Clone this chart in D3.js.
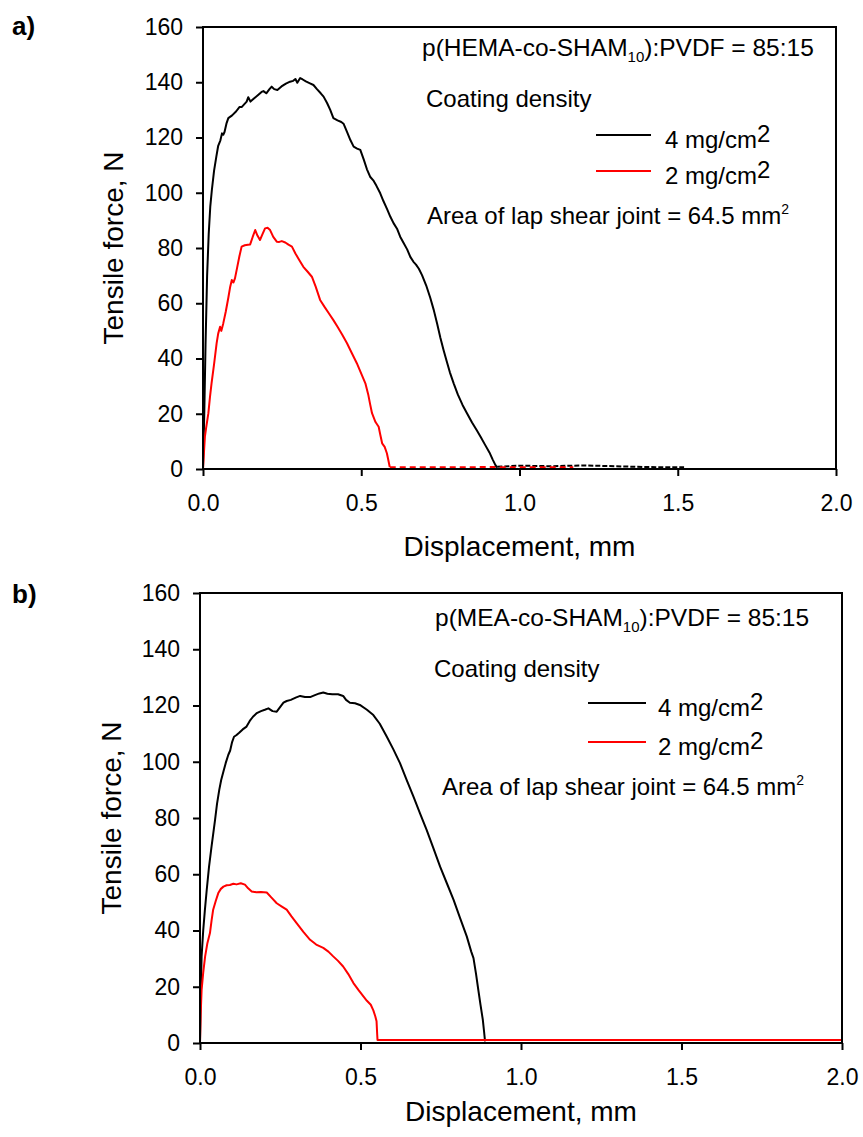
<!DOCTYPE html>
<html>
<head>
<meta charset="utf-8">
<script src="https://cdn.jsdelivr.net/npm/d3@7"></script>
<style>
  body { margin: 0; background: #fff; }
  svg text { font-family: "Liberation Sans", Arial, sans-serif; fill: #000; }
</style>
</head>
<body>
<div id="chart"></div>
<script>
/* DATA */
const xTicks = [0, 0.5, 1.0, 1.5, 2.0];
const yTicks = [0, 20, 40, 60, 80, 100, 120, 140, 160];
const seriesNames = ["4 mg/cm", "2 mg/cm"];
const seriesColors = ["#000000", "#ff0000"];

// panel a: p(HEMA-co-SHAM10):PVDF, [displacement mm, force N]
const a4mg = [[0,0],[0.004,20],[0.008,45],[0.013,70],[0.018,85],[0.023,95],[0.028,101],[0.035,108],[0.042,113],[0.048,117],
  [0.055,119],[0.060,121.5],[0.064,121],[0.068,122],[0.074,125],[0.080,127],[0.092,128],[0.105,129.5],[0.115,131],[0.122,131],
  [0.130,132],[0.138,133],[0.143,134.6],[0.150,133],[0.160,134],[0.175,135.5],[0.185,136.5],[0.191,136.8],[0.200,136],[0.210,137.5],
  [0.217,138.4],[0.225,137.5],[0.235,137.2],[0.248,138.5],[0.262,139.5],[0.275,140.2],[0.285,140.5],[0.292,141.2],[0.298,139.8],[0.307,141.5],
  [0.315,141],[0.325,140.3],[0.338,139.6],[0.349,139],[0.360,137.5],[0.372,136],[0.381,134.8],[0.392,132.5],[0.402,130],[0.412,127],
  [0.425,126.2],[0.437,125.6],[0.444,125],[0.455,122],[0.466,119],[0.476,116.7],[0.487,116],[0.497,115.5],[0.508,112],[0.518,108.5],
  [0.528,105.8],[0.538,104.5],[0.548,102.5],[0.560,99.8],[0.570,97],[0.582,94],[0.592,91.3],[0.602,89],[0.613,87],[0.623,84.1],
  [0.633,82],[0.645,79.5],[0.655,76.8],[0.665,75],[0.673,74],[0.682,72.5],[0.692,70.2],[0.705,66.5],[0.718,62],[0.729,57.6],
  [0.740,52.5],[0.750,47.5],[0.760,43.1],[0.770,39],[0.780,35],[0.792,31],[0.805,27],[0.820,23.2],[0.834,20.2],[0.850,16.8],
  [0.865,14],[0.877,11.7],[0.890,9],[0.905,6],[0.915,3.5],[0.924,1.4],[0.930,0.5]];
const a4mgTail = [[0.930,0.8],[1.0,1.2],[1.1,1.0],[1.2,1.3],[1.3,1.0],[1.4,0.7],[1.52,0.6]];
const a2mg = [[0,0],[0.003,6],[0.006,11.7],[0.010,15],[0.017,20.2],[0.022,26],[0.027,31],[0.035,38],[0.043,45.5],[0.048,49],
  [0.054,51.5],[0.058,50],[0.064,52.7],[0.072,57],[0.080,62],[0.086,66],[0.091,68.4],[0.096,67.5],[0.101,69],[0.108,73],
  [0.115,77],[0.122,80.5],[0.132,81],[0.142,81.2],[0.149,81.3],[0.157,84],[0.165,86.5],[0.172,84.5],[0.180,82.9],[0.188,85],
  [0.196,87.1],[0.204,87.3],[0.212,86.5],[0.222,84],[0.233,82.3],[0.241,82.2],[0.249,82.5],[0.260,82],[0.270,81.2],[0.281,80.5],
  [0.292,78],[0.305,75.5],[0.317,73.2],[0.330,71.5],[0.344,69.6],[0.356,66],[0.370,61.2],[0.385,58.5],[0.398,56.3],[0.412,53.9],
  [0.425,51.5],[0.440,48.6],[0.455,45.5],[0.470,42],[0.486,38.3],[0.500,34.5],[0.513,31],[0.522,27],[0.528,23.5],[0.534,20.2],
  [0.545,17],[0.555,15.3],[0.560,12.5],[0.566,9.3],[0.574,8],[0.581,5.7],[0.586,3],[0.590,0.7]];
const a2mgTail = [[0.590,0.6],[0.75,0.6],[0.9,0.7],[1.05,0.6],[1.17,0.6]];

// panel b: p(MEA-co-SHAM10):PVDF
const b4mg = [[0,0],[0.002,15],[0.005,30.8],[0.010,40],[0.015,47],[0.021,54.5],[0.028,62.5],[0.036,69.9],[0.047,79.4],[0.053,85],
  [0.060,90],[0.066,93.5],[0.073,96.5],[0.080,99.5],[0.088,102.4],[0.094,104],[0.100,107],[0.106,108.9],[0.114,109.5],[0.122,110.3],
  [0.133,111.5],[0.145,112.5],[0.155,114.5],[0.165,116],[0.177,117.3],[0.190,118],[0.202,118.5],[0.213,119],[0.226,118],[0.239,117.8],
  [0.250,119.5],[0.260,121],[0.270,121.6],[0.283,122],[0.298,122.8],[0.312,123.4],[0.327,123],[0.343,123],[0.358,123.7],[0.372,124.3],
  [0.384,124.6],[0.397,124.2],[0.412,124],[0.430,124],[0.446,123.4],[0.455,122],[0.467,121],[0.483,120.8],[0.498,120.2],[0.520,118.5],
  [0.540,116.6],[0.560,113.5],[0.582,108.9],[0.602,104.5],[0.623,99.5],[0.644,93.5],[0.665,87.6],[0.686,81.5],[0.706,75.8],[0.727,69.3],
  [0.748,62.7],[0.769,56.8],[0.790,50.9],[0.810,44.5],[0.831,37.9],[0.845,32.5],[0.852,30.2],[0.860,24.5],[0.867,18.9],[0.874,13.5],
  [0.881,8.3],[0.885,4],[0.888,0.6]];
const b2mg = [[0,0],[0.002,10],[0.005,18.9],[0.010,25],[0.016,30.8],[0.023,35.5],[0.031,39.1],[0.036,43.5],[0.041,47.4],[0.049,50.5],
  [0.057,53.3],[0.065,54.8],[0.073,55.6],[0.083,56.1],[0.093,56.2],[0.104,56.6],[0.114,56.4],[0.127,56.8],[0.140,56.3],[0.150,55],
  [0.161,53.9],[0.175,53.6],[0.190,53.7],[0.208,53.5],[0.222,51.8],[0.239,49.7],[0.255,48.5],[0.270,47.4],[0.285,45],[0.301,42.6],
  [0.322,39.5],[0.343,36.7],[0.362,35],[0.384,33.8],[0.400,32.5],[0.415,30.8],[0.430,29.2],[0.446,27.2],[0.462,24.5],[0.478,21.3],
  [0.494,18.8],[0.509,16.6],[0.520,15],[0.532,13.6],[0.540,11.6],[0.546,9.5],[0.550,7.7],[0.552,3],[0.553,1.1],[2.0,1.1]];

/* LAYOUT */
const width = 863, height = 1137;
const svg = d3.select("#chart").append("svg")
  .attr("width", width).attr("height", height);

const panels = [
  { label: "a)", labelY: 35, left: 203, right: 836, top: 27, bottom: 469,
    polymer: "p(HEMA-co-SHAM", polyX: 422, polyY: 56,
    densX: 426, densY: 107, keyX1: 596, keyX2: 651, keyTextX: 665, keyY: [135, 171],
    areaX: 427, areaY: 224, xTitleY: 556, yTitleX: 123,
    series: [a4mg, a2mg], tails: [a4mgTail, a2mgTail] },
  { label: "b)", labelY: 603, left: 200, right: 842, top: 593, bottom: 1043,
    polymer: "p(MEA-co-SHAM", polyX: 435, polyY: 626,
    densX: 434, densY: 677, keyX1: 588, keyX2: 646, keyTextX: 658, keyY: [703, 742],
    areaX: 442, areaY: 795, xTitleY: 1121, yTitleX: 121,
    series: [b4mg, b2mg], tails: [] }
];

panels.forEach(drawPanel);

function drawPanel(p) {
  const x = d3.scaleLinear().domain([0, 2]).range([p.left, p.right]);
  const y = d3.scaleLinear().domain([0, 160]).range([p.bottom, p.top]);
  const g = svg.append("g");

  // axes
  const xAxis = g.append("g")
    .attr("transform", `translate(0,${p.bottom})`)
    .call(d3.axisBottom(x).tickValues(xTicks).tickFormat(d3.format(".1f"))
      .tickSize(7).tickSizeOuter(0).tickPadding(19));
  const yAxis = g.append("g")
    .attr("transform", `translate(${p.left},0)`)
    .call(d3.axisLeft(y).tickValues(yTicks).tickSize(7).tickSizeOuter(0).tickPadding(13));
  [xAxis, yAxis].forEach(ax => {
    ax.select(".domain").remove();
    ax.attr("font-family", null).attr("font-size", 23);
    ax.selectAll(".tick line").attr("stroke-width", 2);
  });

  // curves
  const line = d3.line().x(d => x(d[0])).y(d => y(d[1]));
  p.tails.forEach((t, i) => {
    g.append("path").datum(t).attr("d", line)
      .attr("fill", "none").attr("stroke", seriesColors[i])
      .attr("stroke-width", 2).attr("stroke-dasharray", i ? "6,4" : "5,2");
  });
  p.series.forEach((s, i) => {
    g.append("path").datum(s).attr("d", line)
      .attr("fill", "none").attr("stroke", seriesColors[i])
      .attr("stroke-width", 2).attr("stroke-linejoin", "round");
  });

  // frame
  g.append("rect")
    .attr("x", p.left).attr("y", p.top)
    .attr("width", p.right - p.left).attr("height", p.bottom - p.top)
    .attr("fill", "none").attr("stroke", "#000").attr("stroke-width", 2);

  // axis titles
  g.append("text")
    .attr("x", (p.left + p.right) / 2).attr("y", p.xTitleY)
    .attr("text-anchor", "middle").attr("font-size", 28)
    .text("Displacement, mm");
  g.append("text")
    .attr("transform", `translate(${p.yTitleX},${(p.top + p.bottom) / 2}) rotate(-90)`)
    .attr("text-anchor", "middle").attr("font-size", 28)
    .text("Tensile force, N");

  // panel label
  g.append("text")
    .attr("x", 12).attr("y", p.labelY)
    .attr("font-size", 26).attr("font-weight", "bold")
    .text(p.label);

  // legend text
  const poly = g.append("text")
    .attr("x", p.polyX).attr("y", p.polyY).attr("font-size", 24.5);
  poly.append("tspan").text(p.polymer);
  poly.append("tspan").attr("font-size", 15).attr("dy", 6).text("10");
  poly.append("tspan").attr("dy", -6).text("):PVDF = 85:15");

  g.append("text")
    .attr("x", p.densX).attr("y", p.densY).attr("font-size", 24)
    .text("Coating density");

  seriesNames.forEach((name, i) => {
    g.append("line")
      .attr("x1", p.keyX1).attr("x2", p.keyX2)
      .attr("y1", p.keyY[i]).attr("y2", p.keyY[i])
      .attr("stroke", seriesColors[i]).attr("stroke-width", 2);
    const t = g.append("text")
      .attr("x", p.keyTextX).attr("y", p.keyY[i] + 13).attr("font-size", 24);
    t.append("tspan").text((i ? "2 " : "4 ") + name.slice(2));
    t.append("tspan").attr("dy", -6).attr("font-size", 24).text("2");
  });

  const area = g.append("text")
    .attr("x", p.areaX).attr("y", p.areaY).attr("font-size", 24);
  area.append("tspan").text("Area of lap shear joint = 64.5 mm");
  area.append("tspan").attr("dy", -10).attr("font-size", 14).text("2");
}
</script>
</body>
</html>
